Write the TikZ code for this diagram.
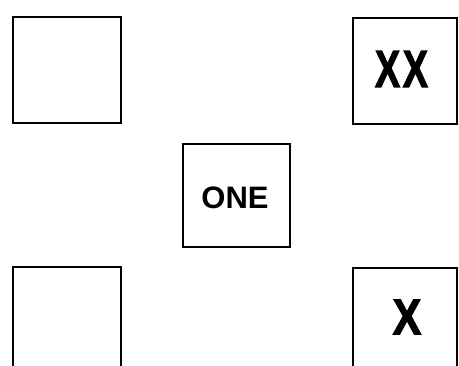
\documentclass[tikz,border=0pt]{standalone}
\usepackage{fontspec}
\setmainfont{Liberation Sans}
\newfontfamily\heavyfont[FakeBold=2.5]{Liberation Sans Bold}
\begin{document}
\begin{tikzpicture}[x=1pt,y=-1pt,
  boxst/.style={draw=black,line width=2.6pt,minimum width=#1,inner sep=0pt},
  lbl/.style={inner sep=0pt,font=\bfseries}]
\useasboundingbox (0,0) rectangle (459,366);
\clip (0,0) rectangle (459,366);
\node[boxst=108pt,minimum height=106pt] (tl) at (67,70) {};
\node[boxst=104pt,minimum height=106pt] (tr) at (405,71) {};
\node[boxst=107pt,minimum height=103pt] (one) at (236.5,195.5) {};
\node[boxst=108pt,minimum height=120pt] (bl) at (67,327) {};
\node[boxst=104pt,minimum height=120pt] (br) at (405,328) {};
\node[inner sep=0pt] (txx) at (401.5,69) {\heavyfont\fontsize{52}{52}\selectfont\scalebox{0.72}[1]{X\kern4ptX}};
\node[lbl] (tone) at (235,198) {\fontsize{31}{31}\selectfont ONE};
\node[inner sep=0pt] (tx) at (407,317) {\heavyfont\fontsize{50}{50}\selectfont\scalebox{0.85}[1]{X}};
\end{tikzpicture}
\end{document}
